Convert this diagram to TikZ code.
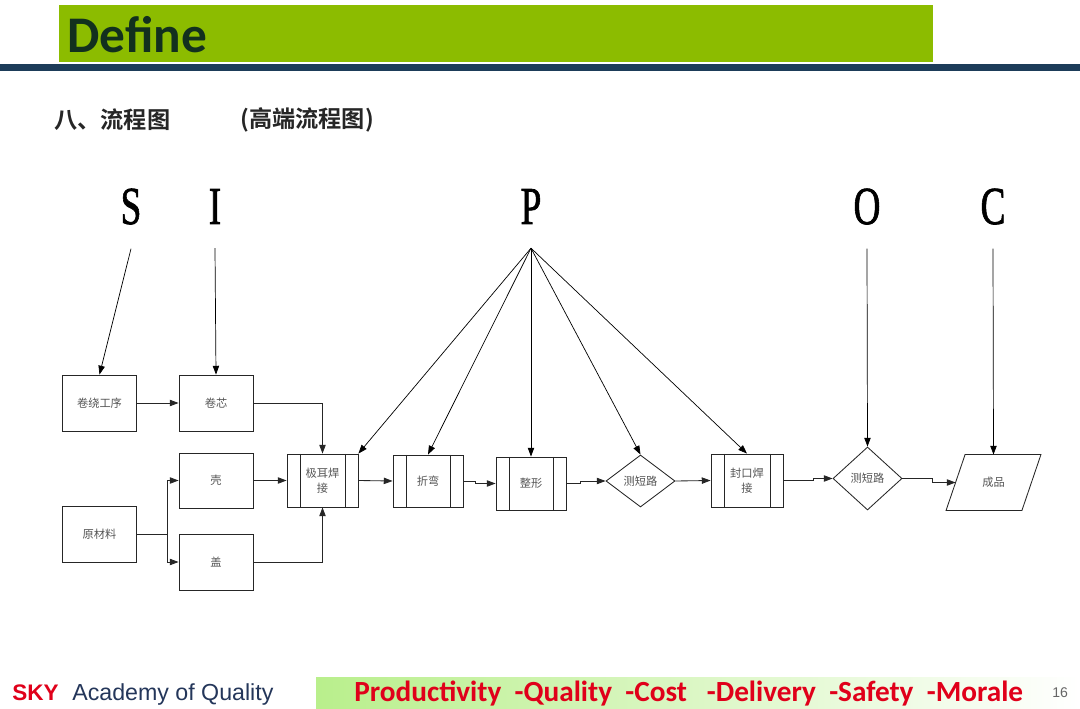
\documentclass[tikz,border=0pt]{standalone}
\usepackage{fontspec}
\setmainfont{Liberation Serif}
\newfontfamily\cjk{Noto Sans CJK SC}
\newfontfamily\cjkbold{Noto Sans CJK SC Bold}
\newfontfamily\carlito{Carlito}
\newfontfamily\arial{Liberation Sans}
\newfontfamily\heavyserif[FakeBold=1.5]{Liberation Serif}
\usetikzlibrary{arrows.meta, shapes.geometric}

\definecolor{banner}{HTML}{8CBC00}
\definecolor{navy}{HTML}{1D3C59}
\definecolor{defink}{HTML}{12301E}
\definecolor{skyred}{HTML}{E0001A}
\definecolor{acad}{HTML}{24365A}
\definecolor{foot}{HTML}{B9EF8C}
\definecolor{boxtext}{HTML}{555555}

\tikzset{
  box/.style={draw=black!85, line width=0.6pt, inner sep=1pt, align=center,
    minimum width=1.85cm, minimum height=1.4cm,
    font=\cjk\fontsize{8}{11}\selectfont, text=boxtext},
  proc/.style={box, minimum width=1.775cm, minimum height=1.325cm,
    path picture={\draw[line width=0.6pt]
      ([xshift=0.325cm]path picture bounding box.north west) -- ([xshift=0.325cm]path picture bounding box.south west)
      ([xshift=-0.325cm]path picture bounding box.north east) -- ([xshift=-0.325cm]path picture bounding box.south east);}},
  decide/.style={box, diamond, minimum width=1.725cm, minimum height=1.3cm},
  letter/.style={font=\heavyserif\fontsize{38}{38}\selectfont, xscale=0.7, inner sep=0, anchor=base},
  flow/.style={line width=0.6pt, black!85, -{Triangle[length=2.2mm,width=1.6mm]}},
  pointer/.style={line width=0.5pt, black, -{Triangle[length=2.2mm,width=1.6mm]}}
}

\begin{document}
\begin{tikzpicture}[x=0.025cm, y=-0.025cm]
\useasboundingbox (0,0) rectangle (1080,709);
\fill[white] (0,0) rectangle (1080,709);

%header
\node[fill=banner, minimum width=21.825cm, minimum height=1.425cm, anchor=north west, inner sep=0] (banner) at (59,5) {};
\node[anchor=west, inner sep=0, text=defink, font=\carlito\bfseries\fontsize{36.5}{36}\selectfont] (define) at (67,35) {Define};
\fill[navy] (0,64) rectangle (1080,71);
\node[anchor=west, inner sep=0, font=\cjkbold\fontsize{16.5}{17}\selectfont, text=black!85] (title) at (54,120) {八、流程图};
\node[anchor=west, inner sep=0, font=\cjkbold\fontsize{16.5}{17}\selectfont, text=black!85] (subtitle) at (240,120) {(高端流程图)};

%SIPOC letters
\node[letter] (S) at (131,224) {S};
\node[letter] (I) at (215,224) {I};
\node[letter] (P) at (531,224) {P};
\node[letter] (O) at (867,224) {O};
\node[letter] (C) at (993,224) {C};

%process boxes
\node[box] (wind) at (99.5,403) {卷绕工序};
\node[box] (core) at (216,403) {卷芯};
\node[box, minimum height=1.375cm] (shell) at (216,480.5) {壳};
\node[box] (raw) at (99.5,534) {原材料};
\node[box] (lid) at (216,562) {盖};
\node[proc] (tabw) at (322.5,480.5) {极耳焊\\接};
\node[proc, minimum width=1.75cm, minimum height=1.3cm] (bend) at (428,481) {折弯};
\node[proc, minimum width=1.75cm] (shape) at (531,483.5) {整形};
\node[decide] (test1) at (640.5,481) {测短路};
\node[proc, minimum width=1.8cm] (seal) at (747,480.5) {封口焊\\接};
\node[decide, minimum height=1.575cm] (test2) at (867.5,478.5) {测短路};
\node[box, draw=none, minimum width=1.875cm, minimum height=1.375cm] (prod) at (993.5,482.5) {成品};
\draw[line width=0.6pt, black!85] ([xshift=0.2375cm]prod.north west) -- ([xshift=0.2375cm]prod.north east)
  -- ([xshift=-0.2375cm]prod.south east) -- ([xshift=-0.2375cm]prod.south west) -- cycle;

%flow
\coordinate (split) at (167,534);
\draw[flow] (wind) -- (core);
\draw[flow] (core.east) -| (tabw.north);
\draw[flow] (shell) -- (tabw);
\draw[line width=0.6pt, black!85] (raw.east) -- (split);
\draw[flow] (split) |- (shell.west);
\draw[flow] (split) |- (lid.west);
\draw[flow] (lid.east) -| (tabw.south);
\draw[flow] (tabw.east) -- (bend.west);
\draw[flow] (bend.east) -- ++(12,0) |- (shape.west);
\draw[flow] (shape.east) -- ++(14,0) |- (test1.west);
\draw[flow] (test1.east) -- (seal.west);
\draw[flow] (seal.east) -- ++(30,0) |- (test2.west);
\draw[flow] (test2.east) -- ++(30,0) |- (prod.west);

%pointers
\draw[pointer] ([yshift=-17pt]S.south) -- (wind.north);
\draw[pointer] ([yshift=-17pt]I.south) -- (core.north);
\draw[pointer] ([yshift=-17pt]P.south) -- (tabw.north east);
\draw[pointer] ([yshift=-17pt]P.south) -- (bend.north);
\draw[pointer] ([yshift=-17pt]P.south) -- (shape.north);
\draw[pointer] ([yshift=-17pt]P.south) -- (test1.north);
\draw[pointer] ([yshift=-17pt]P.south) -- (seal.north);
\draw[pointer] ([yshift=-17pt]O.south) -- (test2.north);
\draw[pointer] ([yshift=-17pt]C.south) -- (prod.north);

%footer
\shade[left color=foot, right color=white] (316,677) rectangle (1080,709);
\node[anchor=base west, inner sep=0, text=skyred, font=\arial\bfseries\fontsize{16}{16}\selectfont] (sky) at (12,700) {SKY};
\node[anchor=base west, inner sep=0, text=acad, font=\arial\fontsize{16.5}{16}\selectfont] (academy) at (72,700) {Academy of Quality};
\node[anchor=base west, inner sep=0, text=skyred, font=\carlito\bfseries\fontsize{20.8}{21}\selectfont] (pqcdsm) at (354,701)
  {Productivity\ \ -Quality\ \ -Cost\ \ \ -Delivery\ \ -Safety\ \ -Morale};
\node[anchor=base west, inner sep=0, text=black!60, font=\arial\fontsize{10}{10}\selectfont] (page) at (1052,697) {16};
\end{tikzpicture}
\end{document}
